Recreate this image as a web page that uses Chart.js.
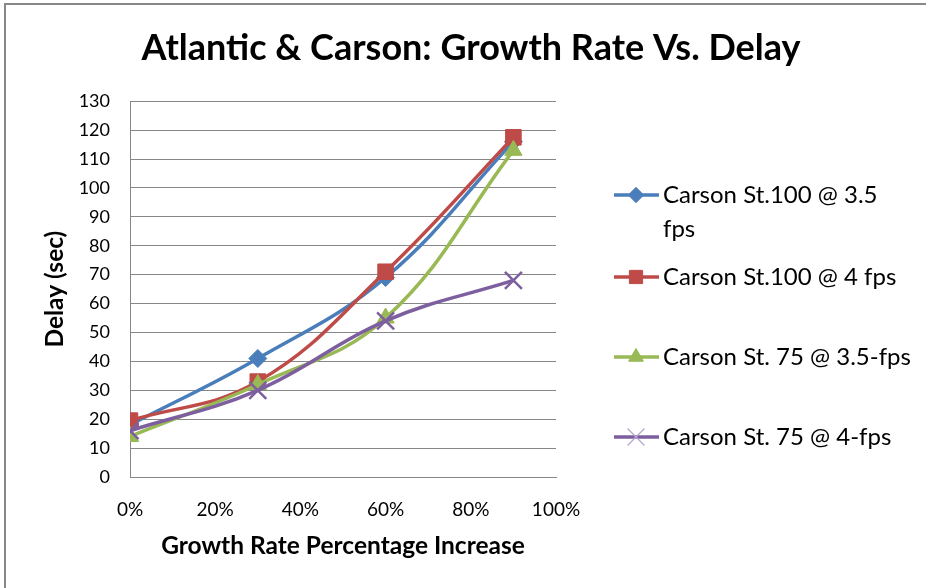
<!DOCTYPE html>
<html><head><meta charset="utf-8">
<script src="https://cdn.jsdelivr.net/npm/chart.js@4.4.0/dist/chart.umd.min.js"></script>
<style>html,body{margin:0;padding:0;background:#fff;overflow:hidden}#wrap{position:relative;width:926px;height:588px}</style>
</head><body><div id="wrap"><canvas id="c" width="926" height="588"></canvas></div>
<script>
// ---- data ----
const growthRates = [0, 0.3, 0.6, 0.9];
const seriesLabels = [
  ["Carson St.100 @ 3.5", "fps"],
  ["Carson St.100 @ 4 fps"],
  ["Carson St. 75 @ 3.5-fps"],
  ["Carson St. 75 @ 4-fps"]
];
const carson100At35 = [18, 41, 69, 116];
const carson100At4 = [19.5, 33, 71, 117.5];
const carson75At35 = [14, 32, 55, 113];
const carson75At4 = [16, 30, 54, 68];
const chartTitle = "Atlantic & Carson: Growth Rate Vs. Delay";
const xAxisTitle = "Growth Rate Percentage Increase";
const yAxisTitle = "Delay (sec)";

const FONT = "Lato, 'Open Sans', sans-serif";
const colors = ["#4A7EBB", "#BE4B48", "#98B954", "#7D5FA0"];
const styles = [
  {pointStyle: "rectRot", radius: 9, bw: 1},
  {pointStyle: "rect", radius: 11, bw: 1},
  {pointStyle: "triangle", radius: 10, bw: 1},
  {pointStyle: "crossRot", radius: 12, bw: 2.5}
];
const seriesValues = [carson100At35, carson100At4, carson75At35, carson75At4];

const datasets = seriesValues.map((vals, i) => ({
  label: seriesLabels[i].join(" "),
  data: vals.map((v, j) => ({x: growthRates[j], y: v})),
  borderColor: colors[i],
  backgroundColor: colors[i],
  pointBackgroundColor: colors[i],
  pointBorderColor: colors[i],
  pointStyle: styles[i].pointStyle,
  pointRadius: styles[i].radius,
  pointBorderWidth: styles[i].bw,
  borderWidth: 3.5,
  tension: 0.4,
  order: 4 - i
}));

const frameAndLegend = {
  id: "frameAndLegend",
  beforeDraw(chart) {
    const ctx = chart.ctx;
    ctx.save();
    ctx.fillStyle = "#fff";
    ctx.fillRect(0, 0, chart.width, chart.height);
    ctx.strokeStyle = "#888";
    ctx.lineWidth = 2;
    ctx.strokeRect(5, 4, chart.width + 20, chart.height + 20);
    ctx.restore();
  },
  afterDraw(chart) {
    const ctx = chart.ctx;
    const ys = [195, 277, 357, 437];
    ctx.save();
    seriesLabels.forEach((lines, i) => {
      const y = ys[i];
      ctx.strokeStyle = colors[i];
      ctx.lineWidth = 3.5;
      ctx.beginPath();
      ctx.moveTo(614, y);
      ctx.lineTo(659, y);
      ctx.stroke();
      ctx.fillStyle = colors[i];
      ctx.strokeStyle = i === 3 ? "#B7A5D0" : colors[i];
      ctx.lineWidth = i === 3 ? 1.2 : styles[i].bw;
      Chart.helpers.drawPoint(ctx, {pointStyle: styles[i].pointStyle, radius: i === 3 ? 12 : styles[i].radius * 0.85, borderWidth: ctx.lineWidth, rotation: 0}, 636, y);
      ctx.fillStyle = "#000";
      ctx.font = "24px " + FONT;
      ctx.textBaseline = "middle";
      ctx.textAlign = "left";
      lines.forEach((t, k) => ctx.fillText(t, 663, y + k * 34));
    });
    ctx.restore();
  }
};

// invisible spacer axis on the right so the title spans the whole canvas
new Chart(document.getElementById("c"), {
  type: "line",
  data: {datasets},
  plugins: [frameAndLegend],
  options: {
    responsive: false,
    animation: false,
    devicePixelRatio: 1,
    layout: {padding: {left: 16, right: 0, top: 0, bottom: 27}},
    plugins: {
      legend: {display: false},
      tooltip: {enabled: false},
      title: {
        display: true,
        text: chartTitle,
        color: "#000",
        font: {family: FONT, size: 36, weight: "bold"},
        padding: {top: 27, bottom: 31}
      }
    },
    scales: {
      x: {
        type: "linear",
        min: 0, max: 1,
        ticks: {stepSize: 0.2, color: "#000", font: {family: FONT, size: 19}, padding: 21,
          callback: v => Math.round(v * 100) + "%"},
        grid: {display: false, drawTicks: false},
        border: {display: true, color: "#878787", width: 1},
        title: {display: true, text: xAxisTitle, color: "#000",
          font: {family: FONT, size: 24.5, weight: "bold"}, padding: {top: 0, bottom: 0}},
        afterFit(s) { s.height = 84; }
      },
      y: {
        min: 0, max: 130,
        ticks: {stepSize: 10, color: "#000", font: {family: FONT, size: 18}, padding: 20},
        grid: {color: "#878787", lineWidth: 1, drawTicks: false},
        border: {display: true, color: "#878787", width: 1},
        title: {display: true, text: yAxisTitle, color: "#000",
          font: {family: FONT, size: 24.5, weight: "bold"}, padding: {top: 24, bottom: 0}},
        afterFit(s) { s.width = 114; }
      },
      spacer: {
        type: "linear",
        position: "right",
        display: true,
        ticks: {display: false},
        grid: {display: false, drawTicks: false},
        border: {display: false},
        afterFit(s) { s.width = 370; }
      }
    }
  }
});
</script></body></html>
